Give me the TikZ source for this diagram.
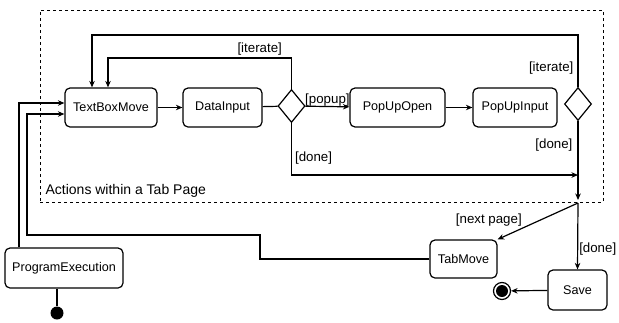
\documentclass[tikz,border=0pt]{standalone}
\usepackage{fontspec}
\setmainfont{Liberation Sans}
\usetikzlibrary{shapes.geometric,arrows.meta}
\begin{document}
\begin{tikzpicture}[x=1pt,y=-1pt,
  font=\fontsize{12.6}{14}\selectfont,
  line width=1.2pt,
  action/.style={draw,rounded corners=5pt,minimum height=39pt,inner sep=0pt},
  decision/.style={draw,diamond,minimum width=27pt,minimum height=33pt,inner sep=0pt},
  arr/.style={-{Stealth[length=6.5pt,width=5.5pt]}},
  guard/.style={inner sep=1pt,font=\fontsize{13.3}{15}\selectfont}]
\useasboundingbox (0,0) rectangle (619,322);

% activity region
\node[draw,dashed,line width=0.9pt,minimum width=563pt,minimum height=192pt,inner sep=0pt] (frame) at (321.5,106) {};
\node[anchor=base west,inner sep=0pt,font=\fontsize{14}{16}\selectfont] (ftitle) at (45,194) {Actions within a Tab Page};

% actions inside the region
\node[action,minimum width=92pt] (tbm) at (111,107.5) {TextBoxMove};
\node[action,minimum width=79pt] (di) at (222.5,107.5) {DataInput};
\node[decision] (d1) at (291.5,106) {};
\node[action,minimum width=95pt] (puo) at (397.5,107.5) {PopUpOpen};
\node[action,minimum width=84pt] (pui) at (515,107.5) {PopUpInput};
\node[decision] (d2) at (578,104) {};

% nodes outside the region
\coordinate (j) at (578,203);
\node[action,minimum width=67pt,minimum height=38pt] (tm) at (463.5,259) {TabMove};
\node[action,minimum width=59pt,minimum height=40pt] (sv) at (577.5,290) {Save};
\node[action,minimum width=118pt,minimum height=40pt] (pe) at (64,268) {ProgramExecution};
\node[circle,fill,minimum size=13pt,inner sep=0pt] (init) at (57,313) {};
\node[circle,draw,minimum size=17pt,inner sep=0pt] (fin) at (502,291) {};
\node[circle,fill,minimum size=12pt,inner sep=0pt] (fincore) at (fin.center) {};

% routing levels and columns
\coordinate (loopA) at (0,35);
\coordinate (loopB) at (0,58);
\coordinate (iterY) at (0,68);
\coordinate (doneRY) at (0,145);
\coordinate (doneLY) at (0,158);
\coordinate (doneY) at (0,175);
\coordinate (backX) at (260,235);
\coordinate (backL) at (27,235);

% flows
\draw[arr] (tbm) -- (di);
\draw (di) -- (d1);
\draw[arr] (d1) -- node[guard,above,yshift=-1pt] {[popup]} (puo);
\draw[arr] (puo) -- (pui);

\draw[arr] (d1.north) -- (d1.north |- loopB) -- ([xshift=-3pt]tbm.north |- loopB) -- ([xshift=-3pt]tbm.north);
\node[guard,anchor=south east] (g1) at ([xshift=-8pt,yshift=1pt]d1.north |- loopB) {[iterate]};
\draw[arr] (d2.north) -- (d2.north |- loopA) -- ([xshift=-19pt]tbm.north |- loopA) -- ([xshift=-19pt]tbm.north);
\node[guard,anchor=east] (g2) at ([xshift=-3pt]d2.north |- iterY) {[iterate]};
\node[guard,anchor=east] (g3) at ([xshift=-4pt]d2.south |- doneRY) {[done]};
\draw[arr] (d2.south) -- ([yshift=3pt]j);

\draw[arr] (d1.south) -- (d1.south |- doneY) -- (j |- doneY);
\node[guard,anchor=west] (g4) at ([xshift=2pt]d1.south |- doneLY) {[done]};

\draw[arr] (j) -- (tm.north east) node[pos=0.68,anchor=south east,guard] (g5) {[next page]};
\draw[arr] (j) -- (sv.north) node[pos=0.7,right,guard] (g6) {[done]};
\draw[arr] (sv) -- (fin);

\draw[arr] (tm.west) -- (tm.west -| backX) -- (backX) -- (backL) -- ([yshift=-6.5pt]tbm.west -| backL) -- ([yshift=-6.5pt]tbm.west);
\draw[arr] ([xshift=-45pt]pe.north) -- ([xshift=-45pt,yshift=4.5pt]pe.north |- tbm.west) -- ([yshift=4.5pt]tbm.west);
\draw (init) -- (init |- pe.south);
\end{tikzpicture}
\end{document}
